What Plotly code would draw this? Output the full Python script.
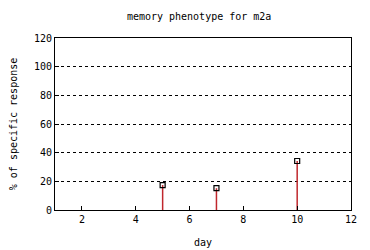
import plotly.graph_objects as go

days = [5, 7, 10]
response = [17.4, 15.2, 34.2]
x_ticks = [2, 4, 6, 8, 10, 12]
y_ticks = [0, 20, 40, 60, 80, 100, 120]

fig = go.Figure()
# impulses
for d, r in zip(days, response):
    fig.add_trace(go.Scatter(x=[d, d], y=[0, r], mode="lines",
                             line=dict(color="#c0272d", width=1.5), showlegend=False,
                             hoverinfo="skip"))
fig.add_trace(go.Scatter(x=days, y=response, mode="markers",
                         marker=dict(symbol="square-open", size=5, color="black",
                                     line=dict(width=1.2, color="black")),
                         showlegend=False))

font = dict(family="DejaVu Sans Mono", size=10, color="black")
# page body has an 8px margin, so the figure is sized/offset to compensate
fig.update_layout(
    width=362, height=242,
    margin=dict(l=47, r=19, t=30, b=40),
    paper_bgcolor="white", plot_bgcolor="white",
    font=font,
    title=dict(text="memory phenotype for m2a", x=0.528, xanchor="center", y=0.963,
               yanchor="middle", font=font),
    xaxis=dict(range=[1, 12], tickvals=x_ticks, ticks="inside", ticklen=4,
               tickcolor="black", showgrid=False, zeroline=False, automargin=False,
               showline=True, linecolor="black", linewidth=1, mirror=True,
               title=dict(text="day", font=font, standoff=14)),
    yaxis=dict(range=[0, 120], tickvals=y_ticks, ticks="inside", ticklen=4,
               tickcolor="black", showgrid=True, gridcolor="black", griddash="dot",
               gridwidth=1, zeroline=False, automargin=False,
               showline=True, linecolor="black", linewidth=1, mirror=True,
               title=dict(text="% of specific response", font=font, standoff=17)),
)
fig.write_html("out.html")
